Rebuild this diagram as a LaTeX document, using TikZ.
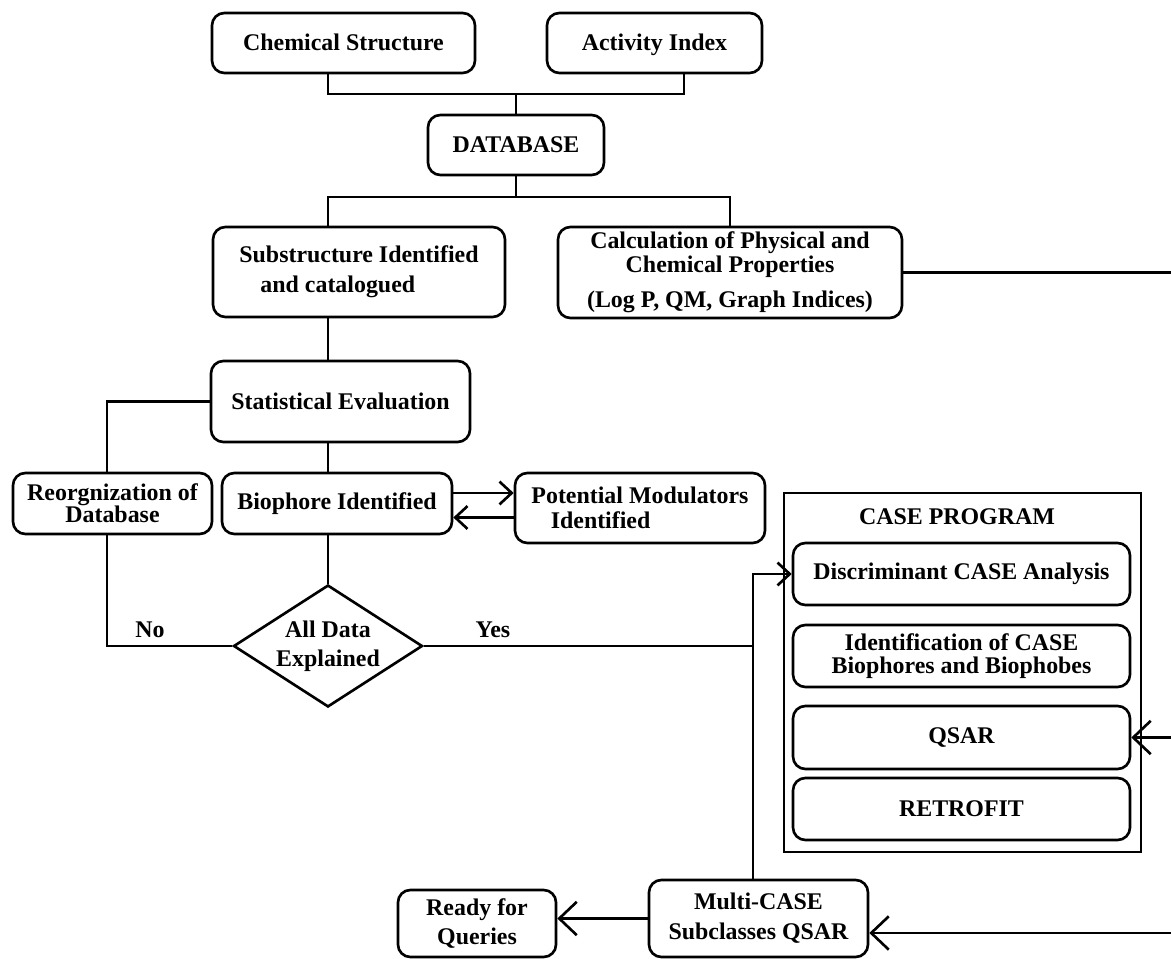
\documentclass[tikz,border=0pt]{standalone}
\usepackage{fontspec}
\setmainfont{Liberation Serif}
\usetikzlibrary{arrows.meta,shapes.geometric}

\begin{document}
\begin{tikzpicture} [x=0.02cm,y=-0.02cm,{box/.style={rectangle,rounded corners=7pt,draw,line width=1.5pt,inner sep=2pt,align=center,font=\fontsize{13.6}{17}\selectfont\bfseries}},{decide/.style={diamond,draw,line width=1.5pt,inner sep=0pt,aspect=1.55,align=center,font=\fontsize{13.6}{16.5}\selectfont\bfseries}},{lbl/.style={font=\fontsize{13.6}{16}\selectfont\bfseries}},{link/.style={line width=1.5pt}},{tip/.style={link,-{Straight Barb[length=7pt,width=13pt]}}},{bigtip/.style={link,-{Straight Barb[length=10pt,width=19pt]}}}]
		\useasboundingbox (0,0) rectangle (1171,959);
		%%inputs
		\node at (343.5,43) [box,minimum width=5.26cm,minimum height=1.2cm,text height=2ex,text depth=0.17ex] (chem) {Chemical Structure};
		\node at (654.5,43) [box,minimum width=4.3cm,minimum height=1.2cm,text height=2ex,text depth=0.17ex] (act) {Activity Index};
		\node at (516,145) [box,minimum width=3.52cm,minimum height=1.2cm] (db) {DATABASE};
		%%first level
		\node at (359,272) [box,align=left,minimum width=5.84cm,minimum height=1.8cm] (sub) {Substructure Identified\\\hspace*{12pt}and catalogued};
		\node at (730,272.5) [box,minimum width=6.88cm,minimum height=1.82cm,font=\fontsize{13.6}{10.5}\selectfont\bfseries] (calc) {Calculation of Physical and\\Chemical Properties\\[7pt](Log P, QM, Graph Indices)};
		\node at (340.5,401.5) [box,minimum width=5.18cm,minimum height=1.62cm] (stat) {Statistical Evaluation};
		\node at (112.5,503.5) [box,minimum width=3.98cm,minimum height=1.22cm,font=\fontsize{13.6}{12.5}\selectfont\bfseries] (reorg) {Reorgnization of\\Database};
		\node at (337,503.5) [box,minimum width=4.6cm,minimum height=1.22cm] (bio) {Biophore Identified};
		\node at (640,508) [box,align=left,minimum width=5cm,minimum height=1.4cm,font=\fontsize{13.6}{14}\selectfont\bfseries] (pot) {Potential Modulators\\\hspace*{11pt}Identified};
		\node at (328,646) [decide,minimum width=3.78cm,minimum height=2.44cm] (dec) {All Data\\Explained};
		\node at (150,630) [lbl] (no) {No};
		\node at (493,630) [lbl] (yes) {Yes};
		%%case program
		\node at (962.5,672.5) [rectangle,draw,line width=1.5pt,minimum width=7.14cm,minimum height=7.18cm] (case) {};
		\node at (957,517) [lbl] (casetitle) {CASE PROGRAM};
		\node at (961.5,574) [box,minimum width=6.74cm,minimum height=1.24cm] (disc) {Discriminant CASE Analysis};
		\node at (961.5,656) [box,minimum width=6.74cm,minimum height=1.24cm,font=\fontsize{13.6}{13}\selectfont\bfseries] (ident) {Identification of CASE\\Biophores and Biophobes};
		\node at (961.5,737.5) [box,minimum width=6.74cm,minimum height=1.26cm] (qsar) {QSAR};
		\node at (961.5,809) [box,minimum width=6.74cm,minimum height=1.24cm] (retro) {RETROFIT};
		%%outputs
		\node at (758.5,918.5) [box,minimum width=4.38cm,minimum height=1.54cm] (multi) {Multi-CASE\\Subclasses QSAR};
		\node at (477,923.5) [box,minimum width=3.16cm,minimum height=1.34cm] (ready) {Ready for\\Queries};

		%%bus points
		\coordinate (busA) at (516,94);
		\coordinate (busAl) at (328,94);
		\coordinate (busAr) at (684,94);
		\coordinate (busB) at (516,197);
		\coordinate (busBl) at (328,197);
		\coordinate (loopL) at (107,0);
		\coordinate (yesJ) at (753,646);
		\coordinate (discJ) at (753,574);
		\coordinate (edge) at (1171,0);
		\coordinate (mA) at ([yshift=0.21cm]bio.east);
		\coordinate (mB) at ([yshift=-0.19cm]pot.west);
		\coordinate (mC) at ([yshift=-0.29cm]multi.east);

		%%connectors
		\draw [link] (chem.south -| busAl) -- (busAl) -- (busAr) -- (act.south -| busAr);
		\draw [link] (busA) -- (db.north);
		\draw [link] (db.south) -- (busB);
		\draw [link] (sub.north -| busBl) -- (busBl) -| (calc.north);
		\draw [link] (sub.south -| busBl) -- (stat.north -| busBl);
		\draw [link] (stat.south -| busBl) -- (bio.north -| busBl);
		\draw [link] (bio.south -| busBl) -- (dec.north);
		\draw [link] (stat.west) -| (reorg.north -| loopL);
		\draw [link] (dec.west) -| (reorg.south -| loopL);
		\draw [tip] (mA) -- (mA -| pot.west);
		\draw [tip] (mB) -- (mB -| bio.east);
		\draw [link] (dec.east) -- (yesJ);
		\draw [tip] (multi.north -| yesJ) -- (discJ) -- (disc.west);
		\draw [link] (calc.east) -- (calc.east -| edge);
		\draw [bigtip] (qsar.east -| edge) -- (qsar.east);
		\draw [bigtip] (mC -| edge) -- (mC);
		\draw [bigtip] (multi.west) -- (multi.west -| ready.east);
	\end{tikzpicture}
\end{document}
